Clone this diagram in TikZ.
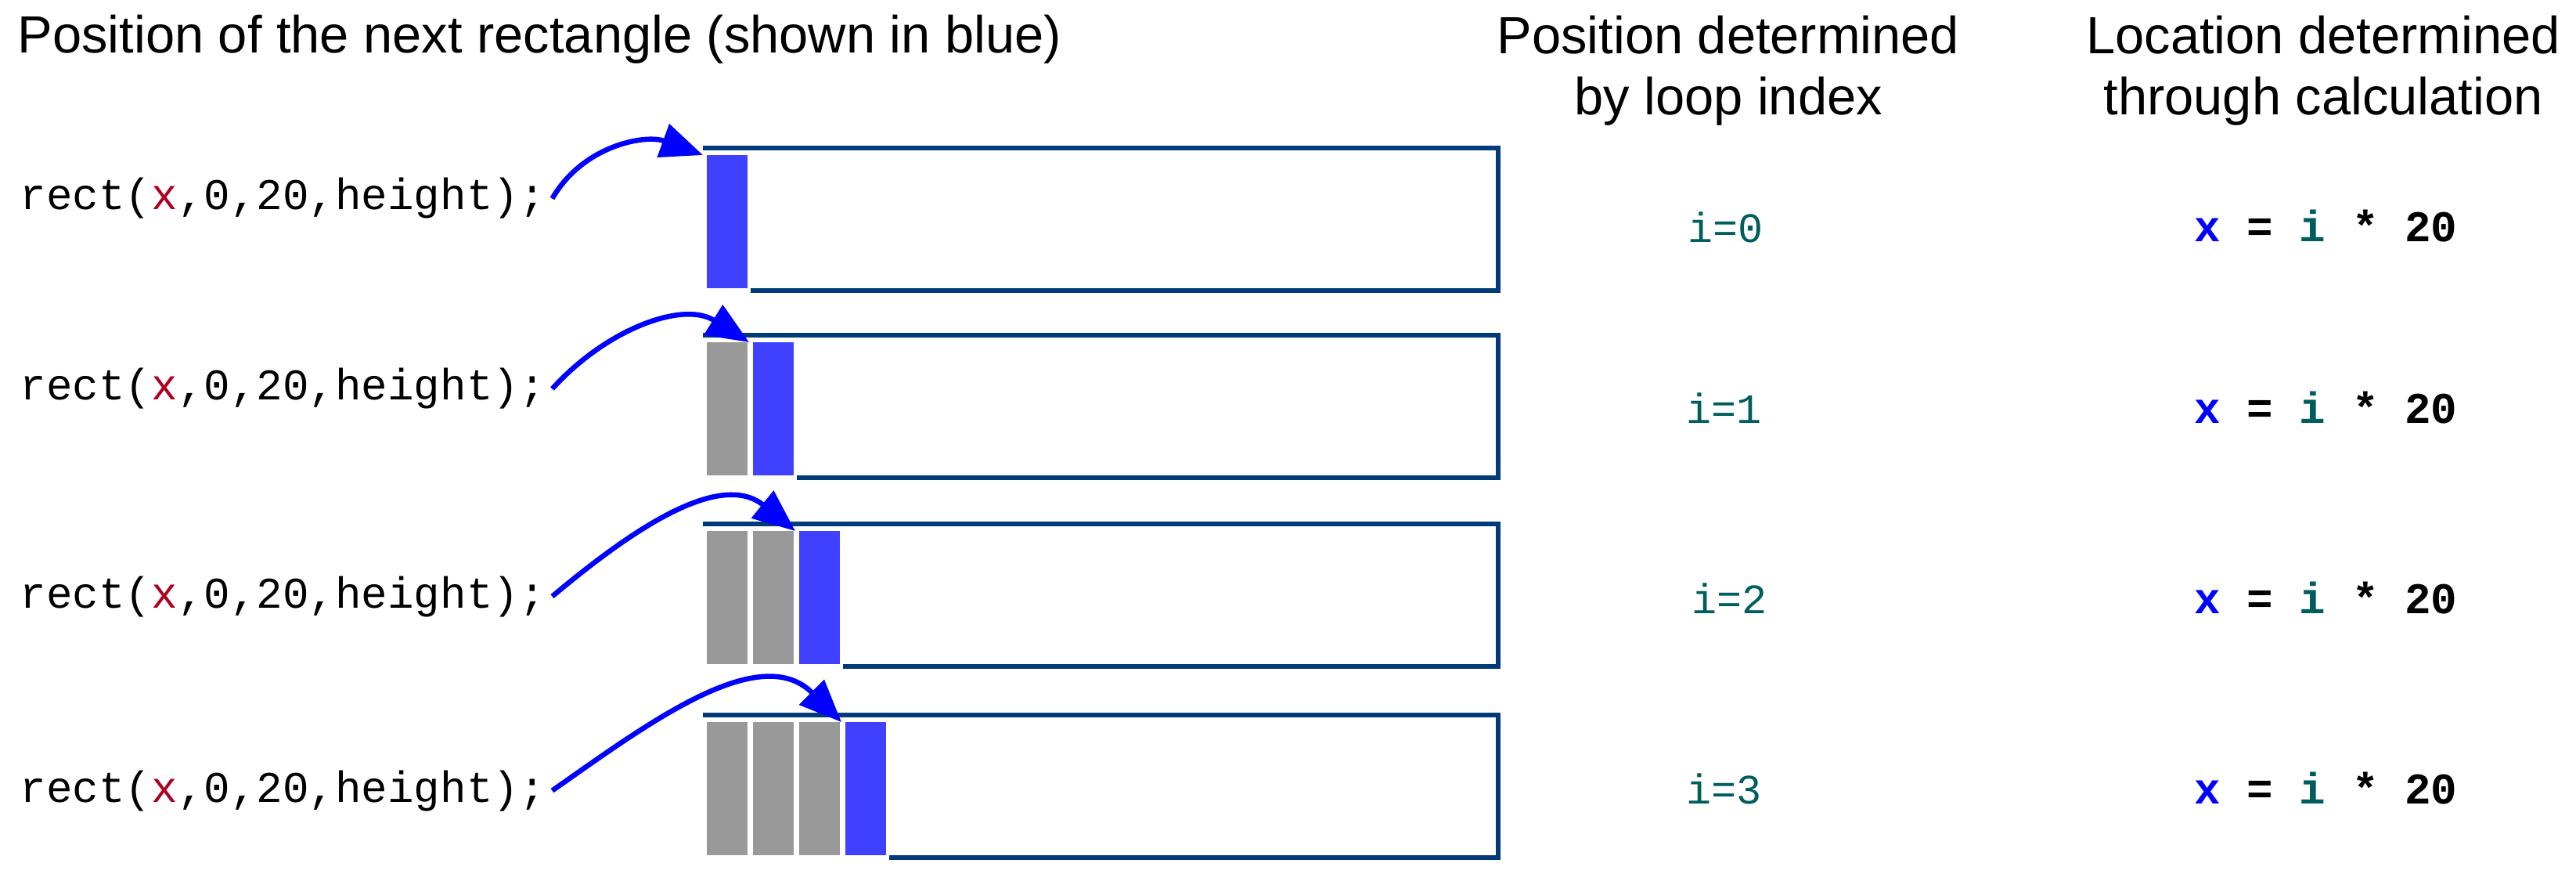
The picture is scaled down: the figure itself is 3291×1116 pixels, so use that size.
\documentclass[tikz,border=0pt]{standalone}
\usepackage{fontspec}
\setmainfont{Liberation Sans}
\newfontfamily\codefont{Liberation Mono}
\usetikzlibrary{arrows.meta}

\definecolor{frameblue}{RGB}{0,58,120}
\definecolor{barblue}{RGB}{64,64,255}
\definecolor{bargray}{RGB}{153,153,153}
\definecolor{arrowblue}{RGB}{0,0,255}
\definecolor{varred}{RGB}{176,0,32}
\definecolor{idxteal}{RGB}{0,94,94}

\begin{document}
\begin{tikzpicture}[x=0.01cm, y=-0.01cm,
	boxline/.style={draw=frameblue, line width=0.062cm},
	bar/.style={anchor=north west, inner sep=0, outer sep=0, minimum width=0.52cm, minimum height=1.70cm},
	jump/.style={draw=arrowblue, line width=0.065cm, -{Triangle[length=0.54cm,width=0.44cm]}},
	headtext/.style={anchor=base, inner sep=0, font=\fontsize{19}{23}\selectfont},
	codetext/.style={anchor=base west, inner sep=0.08cm, font=\codefont\fontsize{15.9}{19}\selectfont},
	idxtext/.style={anchor=base west, inner sep=0, text=idxteal, font=\codefont\fontsize{15.2}{18}\selectfont},
	calctext/.style={anchor=base west, inner sep=0, font=\codefont\bfseries\fontsize{15.9}{19}\selectfont}]
	\useasboundingbox (0,0) rectangle (3291,1116);

	\node[headtext, anchor=base west] (title) at (22,68) {Position of the next rectangle (shown in blue)};
	\node[headtext] (posA) at (2208,69) {Position determined};
	\node[headtext] (posB) at (2208,147) {by loop index};
	\node[headtext] (locA) at (2968,69) {Location determined};
	\node[headtext] (locB) at (2968,147) {through calculation};

	\draw[boxline] (959,371) -| (1914,189) -- (898,189);
	\draw[boxline] (1018,610) -| (1914,428) -- (898,428);
	\draw[boxline] (1077,851) -| (1914,669) -- (898,669);
	\draw[boxline] (1136,1095) -| (1914,913) -- (898,913);

	\node[bar, fill=barblue] (blue0) at (903,198) {};

	\node[bar, fill=bargray] (gray1a) at (903,437) {};
	\node[bar, fill=barblue] (blue1) at (962,437) {};

	\node[bar, fill=bargray] (gray2a) at (903,678) {};
	\node[bar, fill=bargray] (gray2b) at (962,678) {};
	\node[bar, fill=barblue] (blue2) at (1021,678) {};

	\node[bar, fill=bargray] (gray3a) at (903,922) {};
	\node[bar, fill=bargray] (gray3b) at (962,922) {};
	\node[bar, fill=bargray] (gray3c) at (1021,922) {};
	\node[bar, fill=barblue] (blue3) at (1080,922) {};

	\node[codetext] (code0) at (17,268) {rect(\textcolor{varred}{x},0,20,height);};
	\node[codetext] (code1) at (17,511) {rect(\textcolor{varred}{x},0,20,height);};
	\node[codetext] (code2) at (17,776) {rect(\textcolor{varred}{x},0,20,height);};
	\node[codetext] (code3) at (17,1024) {rect(\textcolor{varred}{x},0,20,height);};

	\draw[jump] (code0.east) to[out=60,in=160] ([xshift=-0.05cm]blue0.north west);
	\draw[jump] (code1.east) to[out=48,in=148] ([xshift=-0.05cm]blue1.north west);
	\draw[jump] (code2.east) to[out=40,in=141] ([xshift=-0.05cm]blue2.north west);
	\draw[jump] (code3.east) to[out=35,in=135] ([xshift=-0.05cm]blue3.north west);

	\node[idxtext] (idx0) at (2156,310) {i=0};
	\node[idxtext] (idx1) at (2154,541) {i=1};
	\node[idxtext] (idx2) at (2161,783) {i=2};
	\node[idxtext] (idx3) at (2154,1026) {i=3};

	\node[calctext] (calc0) at (2803,309) {\textcolor{arrowblue}{x} = \textcolor{idxteal}{i} * 20};
	\node[calctext] (calc1) at (2803,541) {\textcolor{arrowblue}{x} = \textcolor{idxteal}{i} * 20};
	\node[calctext] (calc2) at (2803,783) {\textcolor{arrowblue}{x} = \textcolor{idxteal}{i} * 20};
	\node[calctext] (calc3) at (2803,1026) {\textcolor{arrowblue}{x} = \textcolor{idxteal}{i} * 20};
\end{tikzpicture}
\end{document}
